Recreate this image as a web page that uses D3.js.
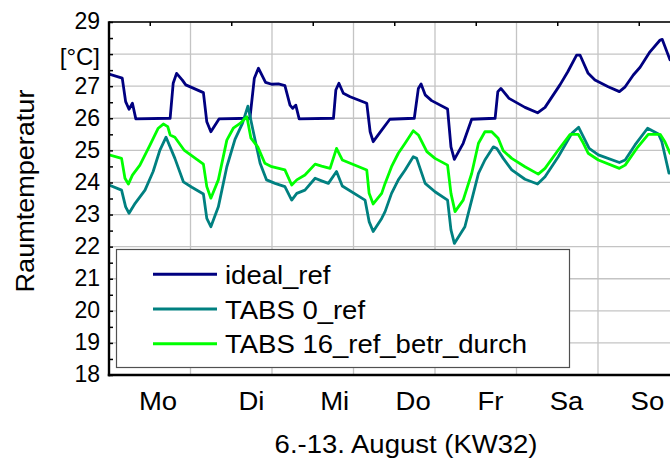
<!DOCTYPE html>
<html><head><meta charset="utf-8">
<script src="https://cdn.jsdelivr.net/npm/d3@7"></script>
<style>html,body{margin:0;padding:0;background:#fff;overflow:hidden}svg{display:block;font-family:"Liberation Sans",Arial,sans-serif}</style>
</head><body><svg id="c" width="670" height="460"></svg>
<script>
// hours since Monday 00:00, room temperature in °C
const idealRef = [[0,27.38],[3.9,27.25],[4.9,26.52],[5.9,26.28],[6.9,26.47],[7.9,25.98],[18.0,26.0],[18.9,27.09],[19.9,27.40],[21.6,27.19],[22.6,27.04],[27.8,26.80],[28.8,25.89],[30.0,25.58],[32.4,25.98],[41.5,26.0],[42.8,27.25],[44.0,27.56],[46.1,27.12],[47.9,27.06],[49.9,27.07],[51.8,27.02],[53.3,26.41],[54.1,26.31],[55.0,26.41],[56.0,25.98],[66.1,26.0],[66.8,26.88],[67.7,27.09],[69.0,26.78],[71.0,26.67],[75.9,26.47],[76.9,25.58],[77.8,25.27],[80.3,25.63],[82.7,25.97],[89.9,26.0],[91.1,26.93],[91.9,27.07],[93.1,26.73],[95.0,26.55],[99.7,26.29],[100.7,25.11],[101.7,24.72],[104.3,25.22],[106.8,25.97],[113.7,26.0],[114.5,26.83],[115.4,26.93],[117.8,26.62],[122.5,26.34],[126.2,26.17],[128.4,26.34],[132.8,27.04],[135.1,27.45],[137.7,27.97],[138.7,27.97],[141.1,27.40],[143.1,27.19],[147.0,26.98],[150.3,26.83],[152.0,26.98],[154.4,27.35],[156.4,27.59],[159.3,28.07],[162.3,28.44],[162.9,28.46],[165.2,27.82]];
const tabs0Ref = [[0,23.92],[3.7,23.76],[4.9,23.24],[5.9,23.04],[7.7,23.35],[10.6,23.76],[13.0,24.34],[15.0,25.01],[16.8,25.41],[19.4,24.75],[21.9,24.02],[24.4,23.85],[27.8,23.64],[28.8,22.88],[30.0,22.62],[32.2,23.24],[34.7,24.49],[37.1,25.34],[39.3,25.84],[40.9,26.38],[42.5,25.58],[44.5,24.60],[46.4,24.08],[48.9,23.97],[51.8,23.87],[53.8,23.45],[55.3,23.66],[57.7,23.76],[60.7,24.13],[62.6,24.05],[64.6,23.97],[67.0,24.34],[68.7,23.89],[75.4,23.45],[76.6,22.78],[77.8,22.47],[80.3,22.88],[81.3,23.09],[83.2,23.66],[85.2,24.08],[87.2,24.39],[89.6,24.80],[90.6,24.75],[93.1,23.97],[96.0,23.71],[99.7,23.45],[100.7,22.52],[101.7,22.10],[104.8,22.62],[106.8,23.45],[108.8,24.28],[110.7,24.70],[113.2,25.11],[114.2,25.06],[116.1,24.75],[118.6,24.39],[122.5,24.10],[126.2,23.95],[128.4,24.18],[132.3,24.80],[136.3,25.53],[138.3,25.72],[141.4,25.06],[144.1,24.86],[150.3,24.62],[152.0,24.70],[154.9,25.17],[158.6,25.69],[161.8,25.51],[162.8,25.27],[164.9,24.29]];
const tabs16Ref = [[0,24.86],[3.7,24.75],[4.7,24.13],[5.7,23.95],[6.9,24.23],[9.1,24.54],[12.1,25.17],[14.5,25.69],[16.0,25.82],[17.3,25.74],[18.0,25.48],[19.4,25.41],[22.1,25.01],[27.8,24.57],[28.8,23.87],[30.0,23.51],[32.2,24.08],[34.7,25.32],[36.6,25.69],[38.6,25.84],[40.6,26.05],[41.8,25.38],[43.8,25.11],[45.9,24.60],[47.9,24.49],[51.8,24.39],[53.8,23.92],[55.3,24.08],[57.7,24.23],[60.7,24.57],[62.6,24.51],[65.1,24.44],[67.0,25.06],[68.7,24.70],[75.9,24.39],[76.6,23.66],[77.8,23.33],[80.3,23.66],[81.3,23.97],[83.2,24.49],[85.2,24.91],[87.2,25.22],[89.6,25.61],[91.1,25.48],[93.6,24.96],[96.0,24.75],[99.7,24.54],[100.7,23.66],[101.9,23.09],[104.3,23.45],[106.8,24.28],[108.8,25.22],[110.7,25.58],[112.7,25.58],[114.6,25.38],[116.1,24.99],[118.6,24.75],[122.5,24.49],[126.4,24.26],[128.4,24.44],[132.3,25.01],[135.8,25.50],[138.2,25.50],[139.7,25.22],[141.1,24.91],[144.1,24.70],[150.3,24.44],[152.0,24.54],[155.4,25.06],[158.8,25.50],[162.3,25.50],[163.7,25.27],[165.2,24.91]];
const seriesNames = ["ideal_ref", "TABS 0_ref", "TABS 16_ref_betr_durch"];
const seriesColors = ["#000080", "#008080", "#00ff00"];
const yTicks = [18, 19, 20, 21, 22, 23, 24, 25, 26, 27, 28, 29];
const yTickLabels = ["18", "19", "20", "21", "22", "23", "24", "25", "26", "27", "[°C]", "29"];
const dayLabels = ["Mo", "Di", "Mi", "Do", "Fr", "Sa", "So"];
const dayLabelHours = [14.3, 41.8, 66.3, 89.4, 112.2, 134.6, 158.4];
const dayBoundaries = [24, 48, 72, 96, 120, 144, 168];
const halfDayTicks = [12, 36, 60, 84, 108, 132, 156];
const xTitle = "6.-13. August (KW32)";
const yTitle = "Raumtemperatur";

const seriesData = [idealRef, tabs0Ref, tabs16Ref];
const L = 109, T = 22, B = 375, R = 679.5;
const x = d3.scaleLinear().domain([0, 168]).range([L, R]);
const y = d3.scaleLinear().domain([18, 29]).range([B, T]);
const svg = d3.select("#c");

// grid
const grid = svg.append("g");
grid.selectAll("line.h").data(yTicks.slice(1)).join("line")
  .attr("x1", L).attr("x2", R).attr("y1", d => y(d)).attr("y2", d => y(d))
  .attr("stroke", "#c4c4c4").attr("stroke-width", 1.3);
grid.selectAll("line.v").data(dayBoundaries).join("line")
  .attr("x1", d => x(d)).attr("x2", d => x(d)).attr("y1", T).attr("y2", B)
  .attr("stroke", "#c4c4c4").attr("stroke-width", 1.3);

// lines
svg.append("clipPath").attr("id", "pc").append("rect")
  .attr("x", L).attr("y", T).attr("width", R - L).attr("height", B - T);
const line = d3.line().x(d => x(d[0])).y(d => y(d[1]));
svg.append("g").attr("clip-path", "url(#pc)").selectAll("path").data(seriesData).join("path")
  .attr("d", line).attr("fill", "none")
  .attr("stroke", (d, i) => seriesColors[i]).attr("stroke-width", 2.8)
  .attr("stroke-linejoin", "round").attr("stroke-linecap", "round");

// legend
const lg = svg.append("g");
lg.append("rect").attr("x", 116.5).attr("y", 249.5).attr("width", 453).attr("height", 118)
  .attr("fill", "#fff").attr("stroke", "#505050").attr("stroke-width", 1.2);
seriesNames.forEach((n, i) => {
  const ly = 274.3 + i * 34.7;
  lg.append("line").attr("x1", 153).attr("x2", 217).attr("y1", ly).attr("y2", ly)
    .attr("stroke", seriesColors[i]).attr("stroke-width", 3);
  lg.append("text").attr("transform", `translate(225,${ly + 9.5}) scale(1.1,1)`)
    .attr("font-size", 25).attr("fill", "#000").text(n);
});

// axes
const yAxis = svg.append("g").attr("transform", `translate(${L},0)`)
  .call(d3.axisLeft(y).tickValues(yTicks).tickSize(-4).tickPadding(9)
    .tickFormat((d, i) => yTickLabels[i]));
yAxis.select(".domain").remove();
yAxis.selectAll("line").attr("stroke", "#000").attr("stroke-width", 1.5);
yAxis.selectAll("text").attr("font-size", 23).attr("font-family", "Liberation Sans, Arial, sans-serif")
  .attr("fill", "#000").attr("dy", "0.3em")
  .filter(d => d === 28).attr("dy", "0.43em").attr("font-size", 24);
const yMinor = svg.append("g").attr("transform", `translate(${L},0)`)
  .call(d3.axisLeft(y).tickValues(d3.range(18.5, 29, 1)).tickSize(-4).tickFormat(""));
yMinor.select(".domain").remove();
yMinor.selectAll("line").attr("stroke", "#000").attr("stroke-width", 1.5);

const topAxis = svg.append("g").attr("transform", `translate(0,${T})`)
  .call(d3.axisTop(x).tickValues(halfDayTicks).tickSize(-4).tickFormat(""));
topAxis.select(".domain").remove();
topAxis.selectAll("line").attr("stroke", "#000").attr("stroke-width", 1.5);

const xAxis = svg.append("g").attr("transform", `translate(0,${B})`)
  .call(d3.axisBottom(x).tickValues(dayLabelHours).tickSize(0).tickFormat((d, i) => dayLabels[i]));
xAxis.select(".domain").remove();
xAxis.selectAll("text").attr("y", 0).attr("dy", 0)
  .attr("transform", "translate(0,35) scale(1.1,1)")
  .attr("font-size", 25).attr("font-family", "Liberation Sans, Arial, sans-serif").attr("fill", "#000");

// frame lines
svg.append("line").attr("x1", L).attr("x2", R).attr("y1", T).attr("y2", T)
  .attr("stroke", "#000").attr("stroke-width", 1.6);
svg.append("line").attr("x1", L).attr("x2", L).attr("y1", T - 0.8).attr("y2", B + 1.2)
  .attr("stroke", "#000").attr("stroke-width", 2.4);
svg.append("line").attr("x1", L - 1.2).attr("x2", R).attr("y1", B).attr("y2", B)
  .attr("stroke", "#000").attr("stroke-width", 2.4);

// titles
svg.append("text").attr("transform", `translate(406,453) scale(1.1,1)`)
  .attr("text-anchor", "middle").attr("font-size", 25).attr("fill", "#000").text(xTitle);
svg.append("text").attr("transform", `translate(33.5,191) rotate(-90) scale(1.04,1)`)
  .attr("text-anchor", "middle").attr("font-size", 26).attr("fill", "#000").text(yTitle);
</script></body></html>
